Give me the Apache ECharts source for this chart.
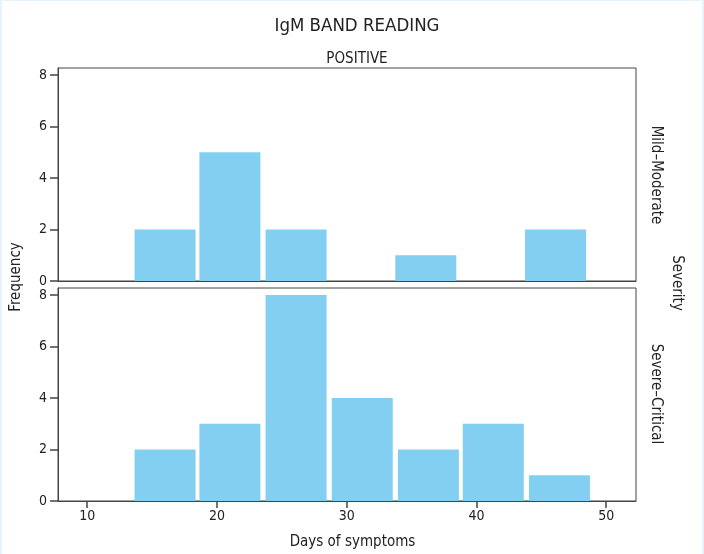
<!DOCTYPE html>
<html>
<head>
<meta charset="utf-8">
<title>IgM Band Reading</title>
<script src="https://cdn.jsdelivr.net/npm/echarts@6/dist/echarts.min.js"></script>
<style>
  html, body { margin: 0; padding: 0; background: #fff; }
  #wrap { position: relative; width: 704px; height: 554px; }
  #chart { width: 704px; height: 554px; }
  #frame {
    position: absolute; left: 0; top: 0; right: 0; bottom: 0;
    border-left: 2px solid #e6f3fb;
    border-top: 1px solid #e6f3fb;
    border-right: 2px solid #e6f3fb;
    pointer-events: none;
  }
</style>
</head>
<body>
<div id="wrap">
  <div id="chart"></div>
  <div id="frame"></div>
</div>
<script>
// bin centres (days of symptoms) and counts, one set per severity panel
const MILD_BINS   = [16.0, 21.0, 26.1, 31.1, 36.1, 41.1, 46.1]
const MILD_COUNTS = [2, 5, 2, 0, 1, 0, 2]
const SEVERE_BINS   = [16.0, 21.0, 26.1, 31.2, 36.3, 41.3, 46.4]
const SEVERE_COUNTS = [2, 3, 8, 4, 2, 3, 1]

const X_TICKS = [10, 20, 30, 40, 50]
const PANELS  = ['Mild–Moderate', 'Severe–Critical']

const FONT = '"Liberation Sans Narrow", "DejaVu Sans Condensed", sans-serif'
const BAR_COLOR = '#82cff2'
const LINE_COLOR = '#444'
const TEXT_COLOR = '#222'

const chart = echarts.init(document.getElementById('chart'), null, { renderer: 'canvas' })

function pairs(bins, counts) {
  return bins.map((b, i) => [b, counts[i]])
}

function xAxisFor(idx, withLabels) {
  return {
    type: 'value',
    gridIndex: idx,
    min: 7.75,
    max: 52.3,
    splitLine: { show: false },
    axisLine: { show: true, onZero: false, lineStyle: { color: LINE_COLOR, width: 1 } },
    axisTick: {
      show: withLabels,
      length: 7,
      customValues: X_TICKS,
      lineStyle: { color: LINE_COLOR, width: 1.5 },
    },
    axisLabel: {
      show: withLabels,
      customValues: X_TICKS,
      color: TEXT_COLOR,
      fontFamily: FONT,
      fontSize: 14,
      margin: 8,
    },
    name: withLabels ? 'Days of symptoms' : '',
    nameLocation: 'middle',
    nameGap: 34,
    nameTextStyle: { color: TEXT_COLOR, fontFamily: FONT, fontSize: 15, padding: [0, 0, 0, 11] },
  }
}

function yAxisFor(idx) {
  return {
    type: 'value',
    gridIndex: idx,
    min: 0,
    max: 8.27,
    interval: 2,
    splitLine: { show: false },
    axisLine: { show: true, lineStyle: { color: LINE_COLOR, width: 1 } },
    axisTick: { show: true, length: 8, lineStyle: { color: LINE_COLOR, width: 1.5 } },
    axisLabel: {
      color: TEXT_COLOR,
      fontFamily: FONT,
      fontSize: 14,
      margin: 11,
      showMaxLabel: false,
      formatter: (v) => (v > 8 ? '' : String(v)),
    },
  }
}

const option = {
  animation: false,
  backgroundColor: '#fff',
  title: [
    {
      text: 'IgM BAND READING',
      left: 352,
      top: 12,
      textAlign: 'center',
      textStyle: { color: TEXT_COLOR, fontFamily: FONT, fontSize: 18.5, fontWeight: 'normal' },
    },
    {
      text: 'POSITIVE',
      left: 352,
      top: 47,
      textAlign: 'center',
      textStyle: { color: TEXT_COLOR, fontFamily: FONT, fontSize: 15, fontWeight: 'normal' },
    },
  ],
  grid: [
    { left: 58, right: 68, top: 68, height: 213, show: true, borderColor: LINE_COLOR, borderWidth: 1, backgroundColor: 'transparent' },
    { left: 58, right: 68, top: 288, height: 213, show: true, borderColor: LINE_COLOR, borderWidth: 1, backgroundColor: 'transparent' },
  ],
  xAxis: [xAxisFor(0, false), xAxisFor(1, true)],
  yAxis: [yAxisFor(0), yAxisFor(1)],
  series: [
    {
      name: PANELS[0],
      type: 'bar',
      xAxisIndex: 0,
      yAxisIndex: 0,
      barWidth: 61,
      data: pairs(MILD_BINS, MILD_COUNTS),
      itemStyle: { color: BAR_COLOR },
    },
    {
      name: PANELS[1],
      type: 'bar',
      xAxisIndex: 1,
      yAxisIndex: 1,
      barWidth: 61,
      data: pairs(SEVERE_BINS, SEVERE_COUNTS),
      itemStyle: { color: BAR_COLOR },
    },
  ],
  graphic: [
    {
      type: 'text', x: 16, y: 277, rotation: Math.PI / 2,
      style: { text: 'Frequency', fill: TEXT_COLOR, font: '15px ' + FONT, align: 'center', verticalAlign: 'middle' },
    },
    {
      type: 'text', x: 656, y: 175, rotation: -Math.PI / 2,
      style: { text: PANELS[0], fill: TEXT_COLOR, font: '15px ' + FONT, align: 'center', verticalAlign: 'middle' },
    },
    {
      type: 'text', x: 656, y: 394, rotation: -Math.PI / 2,
      style: { text: PANELS[1], fill: TEXT_COLOR, font: '15px ' + FONT, align: 'center', verticalAlign: 'middle' },
    },
    {
      type: 'text', x: 677, y: 283, rotation: -Math.PI / 2,
      style: { text: 'Severity', fill: TEXT_COLOR, font: '15px ' + FONT, align: 'center', verticalAlign: 'middle' },
    },
  ],
}

chart.setOption(option)
</script>
</body>
</html>
